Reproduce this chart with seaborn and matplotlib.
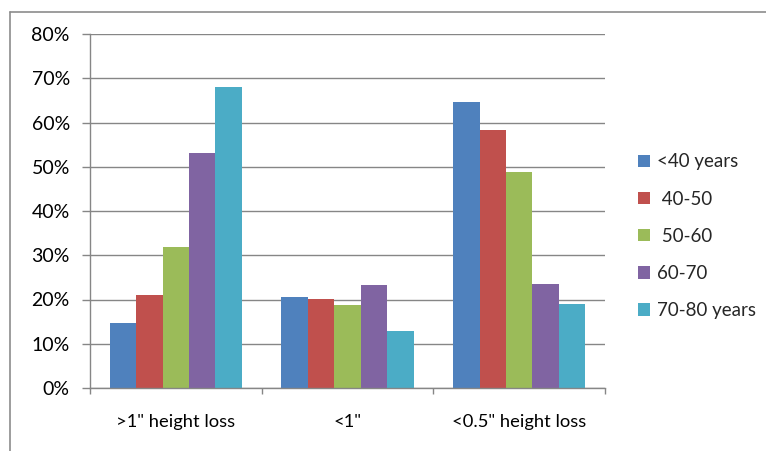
import matplotlib
matplotlib.use("Agg")
import matplotlib.pyplot as plt
from matplotlib.lines import Line2D
from matplotlib.ticker import PercentFormatter, FixedLocator
import seaborn as sns
import pandas as pd

categories = ['>1" height loss', '<1"', '<0.5" height loss']
age_groups = ["<40 years", " 40-50", " 50-60", "60-70", "70-80 years"]
palette = ["#4F81BD", "#C0504D", "#9BBB59", "#8064A2", "#4BACC6"]

under_40 = [0.148, 0.205, 0.646]
age_40_50 = [0.211, 0.201, 0.583]
age_50_60 = [0.319, 0.187, 0.489]
age_60_70 = [0.531, 0.232, 0.236]
age_70_80 = [0.680, 0.128, 0.190]

y_ticks = [0.0, 0.1, 0.2, 0.3, 0.4, 0.5, 0.6, 0.7, 0.8]

series = [under_40, age_40_50, age_50_60, age_60_70, age_70_80]
rows = []
for group, values in zip(age_groups, series):
    for cat, v in zip(categories, values):
        rows.append({"category": cat, "age": group, "share": v})
df = pd.DataFrame(rows)

sns.set_theme(style="white")
plt.rcParams["font.family"] = ["Lato", "DejaVu Sans"]

grid_grey = "#868686"

fig = plt.figure(figsize=(7.66, 4.51), dpi=100)
ax = fig.add_axes([90 / 766, 63 / 451, 515 / 766, 354 / 451])

sns.barplot(data=df, x="category", y="share", hue="age", order=categories,
            hue_order=age_groups, palette=palette, width=0.77,
            saturation=1, linewidth=0, ax=ax, legend=True)

ax.set_ylim(0, 0.8)
ax.set_xlim(-0.5, 2.5)
ax.yaxis.set_major_locator(FixedLocator(y_ticks))
ax.yaxis.set_major_formatter(PercentFormatter(1.0, decimals=0))
ax.grid(axis="y", color=grid_grey, linewidth=1.0)
ax.set_axisbelow(True)
ax.set_xlabel("")
ax.set_ylabel("")

for side in ["top", "right"]:
    ax.spines[side].set_visible(False)
for side in ["left", "bottom"]:
    ax.spines[side].set_color(grid_grey)
    ax.spines[side].set_linewidth(1.0)

ax.tick_params(axis="y", which="major", length=6, width=1, color=grid_grey,
               direction="out", left=True, pad=8.5, labelsize=14,
               labelcolor="#000000")
ax.tick_params(axis="x", which="major", length=0, pad=18.5, labelsize=13.2,
               labelcolor="#000000")
ax.xaxis.set_minor_locator(FixedLocator([-0.5, 0.5, 1.5, 2.5]))
ax.tick_params(axis="x", which="minor", length=4, width=1, color=grid_grey,
               direction="out", bottom=True)

handles, labels = ax.get_legend_handles_labels()
ax.legend(handles, labels, loc="upper left",
          bbox_to_anchor=(638 / 766, (451 - 153.5) / 451),
          bbox_transform=fig.transFigure, frameon=False, fontsize=13.5,
          handlelength=0.64, handleheight=0.64, handletextpad=0.37,
          labelspacing=1.075, borderaxespad=0, borderpad=0)

# outer chart frame
fx, fy = 10 / 766, (451 - 12) / 451
fig.add_artist(Line2D([fx, fx], [-0.05, fy], color="#8c8c8c", linewidth=1.2,
                      transform=fig.transFigure))
fig.add_artist(Line2D([fx, 1.05], [fy, fy], color="#8c8c8c", linewidth=1.2,
                      transform=fig.transFigure))

fig.savefig("out.png", dpi=100)
